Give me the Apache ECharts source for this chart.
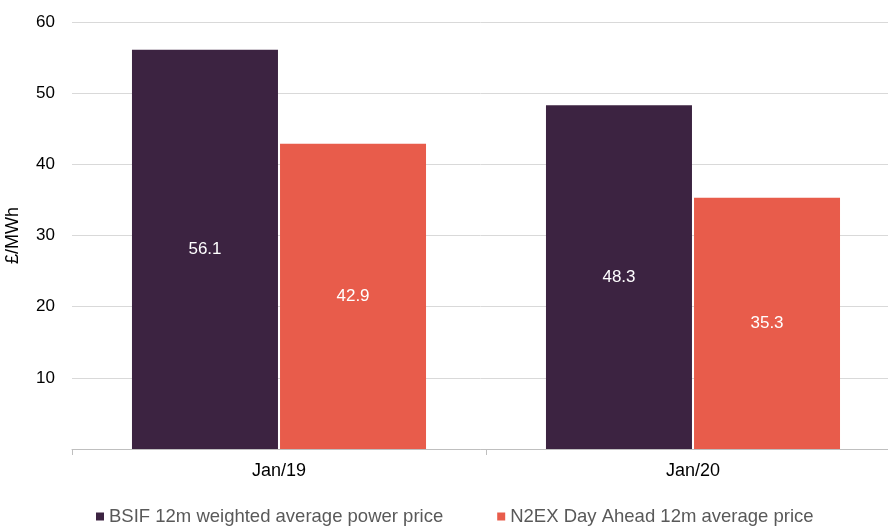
<!DOCTYPE html>
<html>
<head>
<meta charset="utf-8">
<script src="https://cdn.jsdelivr.net/npm/echarts@6/dist/echarts.min.js"></script>
<style>
  html, body { margin: 0; padding: 0; background: #fff; }
  #chart { width: 888px; height: 526px; }
</style>
</head>
<body>
<div id="chart"></div>
<script>
const categories = ['Jan/19', 'Jan/20']
const bsifValues = [56.1, 48.3]
const n2exValues = [42.9, 35.3]
const seriesNames = ['BSIF 12m weighted average power price', 'N2EX Day Ahead 12m average price']
const palette = ['#3c2341', '#e85c4b']

const chart = echarts.init(document.getElementById('chart'))

const barLabel = {
  show: true,
  position: 'inside',
  color: '#fff',
  fontSize: 17,
  fontFamily: 'Liberation Sans, Arial, sans-serif',
  formatter: (p) => p.value.toFixed(1),
}

chart.setOption({
  animation: false,
  textStyle: { fontFamily: 'Liberation Sans, Arial, sans-serif' },
  // plot runs slightly past the right edge of the window
  grid: {
    left: 72, top: 22, width: 828, height: 427,
    containLabel: false,
    outerBoundsMode: 'none',
  },
  legend: {
    bottom: -5,
    left: 91,
    itemWidth: 8,
    itemHeight: 8,
    itemGap: 54,
    icon: 'rect',
    textStyle: { color: '#595959', fontSize: 18.5 },
    data: seriesNames,
  },
  xAxis: {
    type: 'category',
    data: categories,
    axisLine: { lineStyle: { color: '#bfbfbf', width: 1 } },
    axisTick: { show: true, length: 6, lineStyle: { color: '#bfbfbf' } },
    axisLabel: { color: '#000', fontSize: 18, margin: 13 },
  },
  yAxis: {
    type: 'value',
    min: 0,
    max: 60,
    interval: 10,
    name: '£/MWh',
    nameLocation: 'middle',
    nameGap: 50,
    nameTextStyle: { color: '#000', fontSize: 18 },
    axisLine: { show: false },
    axisTick: { show: false },
    axisLabel: { color: '#000', fontSize: 17, margin: 17, showMinLabel: false },
    splitLine: { lineStyle: { color: '#d9d9d9', width: 1 } },
  },
  series: [
    {
      name: seriesNames[0],
      type: 'bar',
      data: bsifValues,
      barWidth: 146,
      barGap: '1.4%',
      itemStyle: { color: palette[0] },
      label: barLabel,
    },
    {
      name: seriesNames[1],
      type: 'bar',
      data: n2exValues,
      barWidth: 146,
      itemStyle: { color: palette[1] },
      label: barLabel,
    },
  ],
})
</script>
</body>
</html>
